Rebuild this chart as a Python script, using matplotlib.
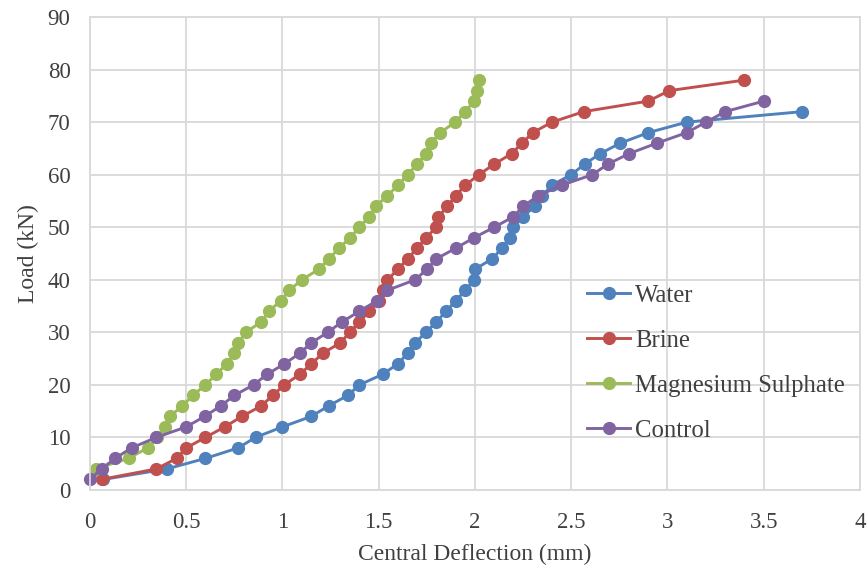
import numpy as np
import matplotlib
matplotlib.use("Agg")
import matplotlib.pyplot as plt
from matplotlib.ticker import FuncFormatter

plt.rcParams['font.family'] = ['Liberation Serif', 'DejaVu Serif']

# load steps (kN) and central deflection (mm)
water_x = [0.07, 0.4, 0.6, 0.77, 0.86, 1.0, 1.15, 1.24, 1.34, 1.4, 1.52, 1.6, 1.65, 1.69, 1.745,
           1.8, 1.85, 1.9, 1.95, 1.995, 2.0, 2.09, 2.14, 2.18, 2.2, 2.25, 2.31, 2.35, 2.4, 2.5,
           2.57, 2.65, 2.755, 2.9, 3.1, 3.7]
water_y = list(range(2, 73, 2))

brine_x = [0.06, 0.345, 0.45, 0.5, 0.6, 0.7, 0.79, 0.89, 0.95, 1.01, 1.09, 1.15, 1.21, 1.3, 1.35,
           1.4, 1.45, 1.5, 1.52, 1.545, 1.6, 1.65, 1.7, 1.745, 1.8, 1.81, 1.857, 1.9, 1.95, 2.02,
           2.1, 2.19, 2.245, 2.3, 2.4, 2.565, 2.9, 3.01, 3.4]
brine_y = list(range(2, 79, 2))

mgso4_x = [0.03, 0.2, 0.3, 0.35, 0.39, 0.415, 0.48, 0.535, 0.6, 0.656, 0.71, 0.75, 0.77, 0.81, 0.89,
           0.93, 0.99, 1.036, 1.1, 1.19, 1.24, 1.295, 1.35, 1.4, 1.45, 1.485, 1.545, 1.6, 1.65, 1.7,
           1.745, 1.77, 1.82, 1.896, 1.95, 1.995, 2.01, 2.02]
mgso4_y = list(range(4, 79, 2))

control_x = [0.0, 0.06, 0.13, 0.216, 0.345, 0.5, 0.596, 0.68, 0.75, 0.85, 0.92, 1.01, 1.09, 1.15,
             1.235, 1.31, 1.4, 1.49, 1.545, 1.69, 1.75, 1.8, 1.9, 1.995, 2.1, 2.2, 2.25, 2.33, 2.45,
             2.61, 2.69, 2.8, 2.945, 3.1, 3.2, 3.3, 3.5]
control_y = list(range(2, 75, 2))

series = [
    ("Water", water_x, water_y, "#4F81BD"),
    ("Brine", brine_x, brine_y, "#C0504D"),
    ("Magnesium Sulphate", mgso4_x, mgso4_y, "#9BBB59"),
    ("Control", control_x, control_y, "#8064A2"),
]

fig = plt.figure(figsize=(8.68, 5.69), dpi=100)
ax = fig.add_axes([0.1037, 0.139, 0.887, 0.831])

for name, xs, ys, c in series:
    ax.plot(xs, ys, "-o", color=c, lw=2.1, ms=8.5, label=name, clip_on=False)

ax.set_xlim(0, 4)
ax.set_ylim(0, 90)
ax.set_xticks(np.arange(0, 4.01, 0.5))
ax.set_yticks(np.arange(0, 91, 10))
ax.xaxis.set_major_formatter(FuncFormatter(lambda v, p: f"{v:g}"))
ax.grid(True, color="#d9d9d9", lw=1.3)
ax.set_axisbelow(True)
for s in ax.spines.values():
    s.set_color("#d9d9d9")
    s.set_linewidth(1.3)
ax.tick_params(length=0, labelsize=16.5, labelcolor="#404040")
ax.tick_params(axis="x", pad=16)
ax.tick_params(axis="y", pad=14)

ax.set_xlabel("Central Deflection (mm)", fontsize=17, color="#404040", labelpad=8)
ax.set_ylabel("Load (kN)", fontsize=17, color="#404040", labelpad=6)

ax.legend(loc="upper left", bbox_to_anchor=(0.6165, 0.482), frameon=False, fontsize=17.8,
          labelspacing=0.92, handlelength=1.75, handletextpad=0.2, labelcolor="#404040")

fig.savefig("out.png", dpi=100)
